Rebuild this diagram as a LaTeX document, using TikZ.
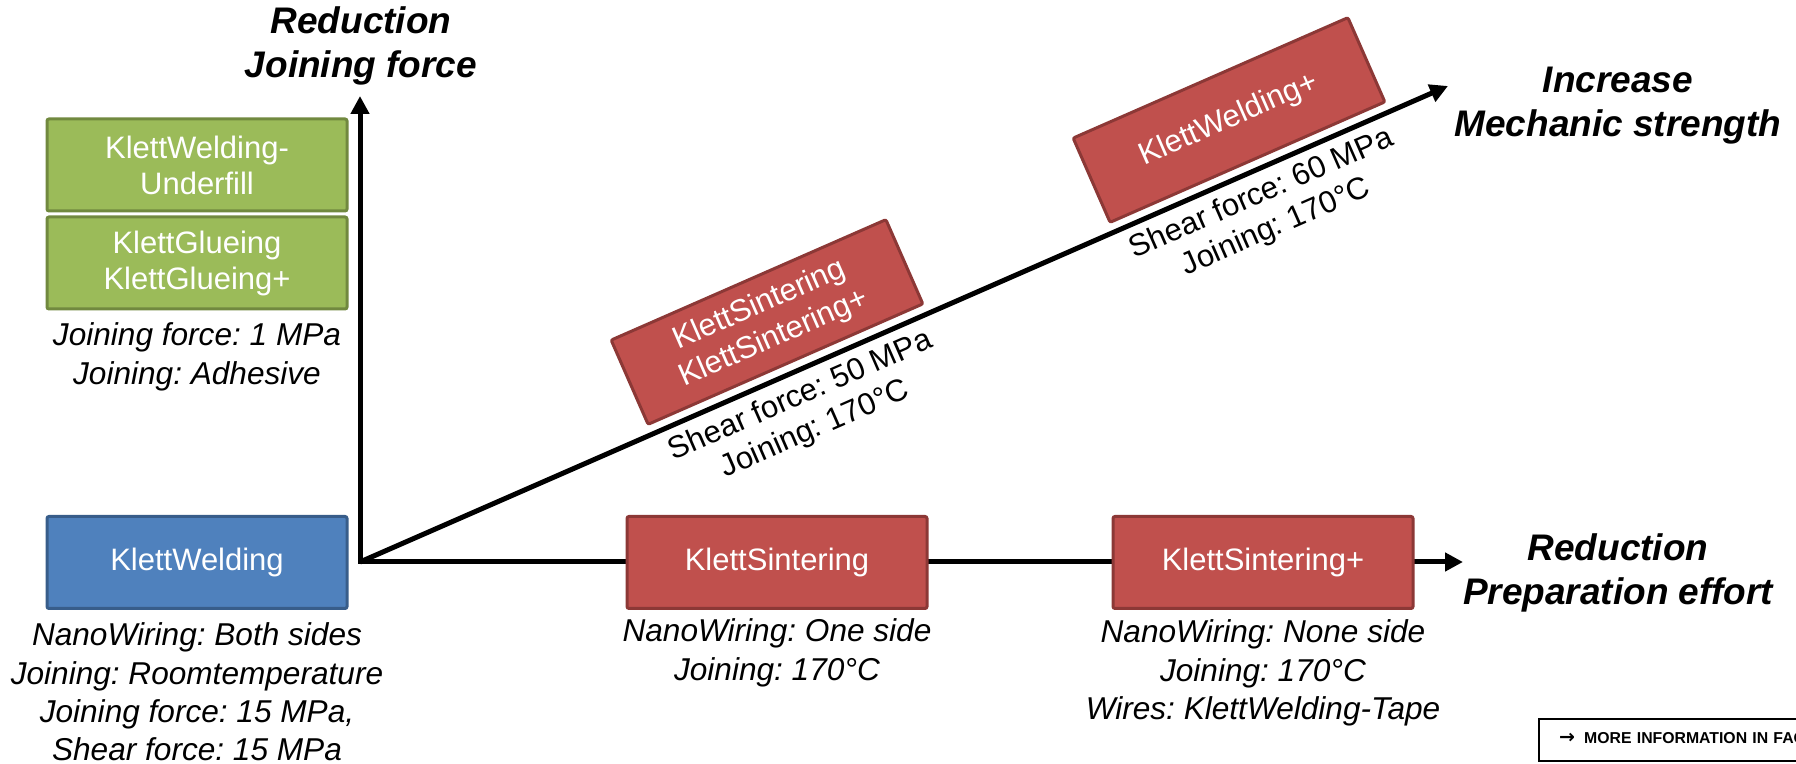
\documentclass[tikz,border=0pt]{standalone}
\usepackage{fontspec}
\setmainfont{Liberation Sans}
\newfontfamily\symfont{DejaVu Sans}
\usetikzlibrary{arrows.meta,calc}
\definecolor{gfill}{HTML}{9BBB59}
\definecolor{gline}{HTML}{71893F}
\definecolor{bfill}{HTML}{4F81BD}
\definecolor{bline}{HTML}{385D8A}
\definecolor{rfill}{HTML}{C0504D}
\definecolor{rline}{HTML}{8C3836}
\frenchspacing
\begin{document}
\begin{tikzpicture}[x=0.5pt,y=-0.5pt,
  boxbase/.style={draw, line width=1.5pt, rounded corners=1pt, minimum width=150pt, minimum height=46pt, inner sep=0pt, align=center, text=white, font=\fontsize{15.5}{18}\selectfont},
  greenbox/.style={boxbase, fill=gfill, draw=gline},
  bluebox/.style={boxbase, fill=bfill, draw=bline},
  redbox/.style={boxbase, fill=rfill, draw=rline},
  desc/.style={align=center, font=\fontsize{15.8}{19.2}\selectfont\itshape, inner sep=0pt},
  rdesc/.style={align=center, font=\fontsize{15.5}{18}\selectfont, inner sep=0pt},
  heading/.style={align=center, font=\fontsize{18.5}{22}\selectfont\bfseries\itshape, inner sep=0pt},
  axisline/.style={line width=2.5pt},
  tip/.tip={Triangle[length=9pt,width=9pt]},
]
\useasboundingbox (0,0) rectangle (1796,764);
\clip (0,0) rectangle (1796,764);

\coordinate (o) at (360,562);
\coordinate (vtip) at (360,96);
\coordinate (htip) at (1463,562);
\coordinate (dtip) at (1448,86);

\draw[axisline, tip-tip] (vtip) -- (o) -- (htip);
\draw[axisline, -tip] (o) -- (dtip);

\node[greenbox] (gw) at (197,165) {KlettWelding-\\Underfill};
\node[greenbox] (gg) at (197,263) {KlettGlueing\\KlettGlueing+};
\node[desc] (gd) at (197,357) {Joining force: 1 MPa\\Joining: Adhesive};

\node[bluebox] (bw) at (197,562.5) {KlettWelding};
\node[desc] (bd) at (197,692) {NanoWiring: Both sides\\Joining: Roomtemperature\\Joining force: 15 MPa,\\Shear force: 15 MPa};

\node[redbox] (ks) at (777,562.5) {KlettSintering};
\node[desc] (ksd) at (777,653) {NanoWiring: One side\\Joining: 170°C};

\node[redbox] (ksp) at (1263,562.5) {KlettSintering+};
\node[desc] (kspd) at (1263,673) {NanoWiring: None side\\Joining: 170°C\\Wires: KlettWelding-Tape};

\node[redbox, rotate=23.67] (rs) at (767,322) {KlettSintering\\KlettSintering+};
\node[rdesc, rotate=23.67] (rsd) at (808,413) {Shear force: 50 MPa\\Joining: 170°C};

\node[redbox, rotate=23.67] (rw) at (1229,120) {KlettWelding+};
\node[rdesc, rotate=23.67] (rwd) at (1269,211) {Shear force: 60 MPa\\Joining: 170°C};

\node[heading] (hv) at (361,46) {Reduction\\Joining force};
\node[heading] (hd) at (1618,106) {Increase\\Mechanic strength};
\node[heading] (hh) at (1618,573) {Reduction\\Preparation effort};

\node[draw, line width=1pt, anchor=west, minimum height=21pt, inner xsep=10pt, inner ysep=0pt,
  text width=200pt, align=left,
  font=\fontsize{7.9}{9.5}\selectfont\bfseries] (faq) at (1538,740) {{\symfont\fontsize{9.5}{9.5}\selectfont →}\hspace{2pt} MORE INFORMATION IN FAQ};
\end{tikzpicture}
\end{document}
